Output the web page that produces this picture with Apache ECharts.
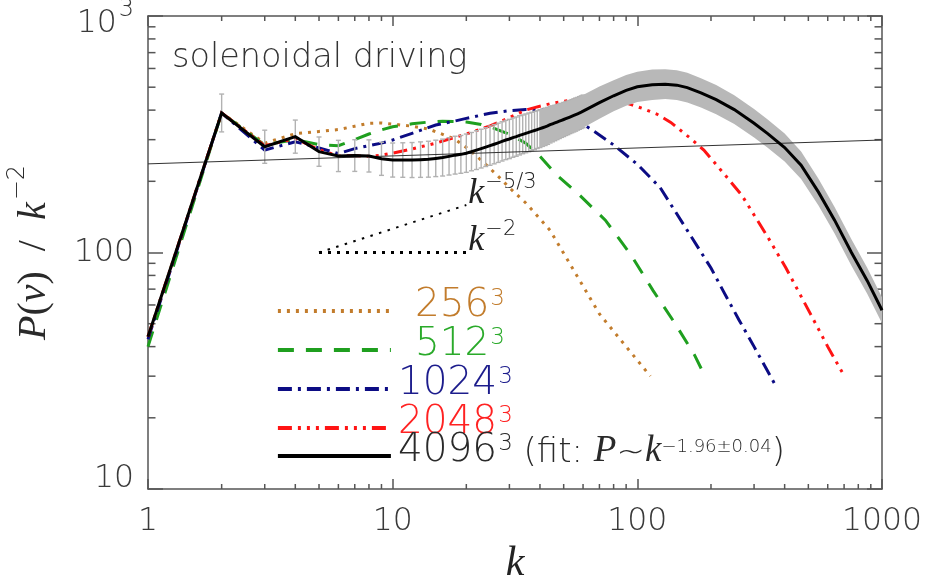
<!DOCTYPE html>
<html><head><meta charset="utf-8">
<script src="https://cdn.jsdelivr.net/npm/echarts@6/dist/echarts.min.js"></script>
<style>html,body{margin:0;padding:0;background:#fff}#c{width:925px;height:585px}</style>
</head><body><div id="c"></div>
<script>
// ---------------- data ----------------
const xMinor = [2,3,4,5,6,7,8,9,20,30,40,50,60,70,80,90,200,300,400,500,600,700,800,900];
const yMinor = [20,30,40,50,60,70,80,90,200,300,400,500,600,700,800,900];

const kBlack = [1,2,3,4,5,6,7,8,9,10,11,12,13,14,15,16,17,18,19,20,21,22,23,24,25,26,27,28,29,30,
  31,32,33,34,35,36,37,38,39,40,41,42,43,44,45,46,47,48,49,50,51,52,53,54,55,56,57,58,59,60,
  70,80,90,100,115,130,145,160,182,210,249,300,341,400,467,550,640,750,870,1000];
const pBlack = [44,389,280,309,267,256,257,256,249,246,
  246,246,247,248,250,252,255,258,260,263,
  267,271,275,279,283,287,291,295,299,302,
  306,309,313,316,319,322,325,328,331,334,
  337,340,343,347,350,353,356,359,362,365,
  368,371,374,377,380,383,386,389,392,395,
  430,460,485,502,512,515,510,498,473,443,
  402,352,318,278,234,180,137,100,76,57];
// error (half width, dex)
const eBlack = [0,0.08,0.07,0.07,0.062,0.066,0.067,0.068,0.07,0.072,
  0.073,0.074,0.075,0.076,0.077,0.078,0.079,0.08,0.08,0.081,
  0.081,0.082,0.082,0.082,0.083,0.083,0.083,0.083,0.083,0.083,
  0.083,0.083,0.083,0.082,0.082,0.082,0.081,0.081,0.08,0.08,
  0.079,0.079,0.078,0.077,0.076,0.075,0.074,0.073,0.072,0.072,
  0.071,0.071,0.07,0.07,0.07,0.07,0.069,0.069,0.069,0.069,
  0.068,0.066,0.065,0.064,0.064,0.063,0.063,0.063,0.062,0.062,
  0.061,0.06,0.06,0.059,0.058,0.057,0.056,0.056,0.055,0.055];

const kOrange = [1,2,3,4,5,6,7,8,9,10,12,14,16,18,20,22,24,27,30,35,44,55,70,90,113];
const pOrange = [44,389,290,318,325,331,342,352,353,349,342,333,316,301,278,256,236,210,188,162,124,84,55,40,30];

const kGreen = [1,2,3,4,5,6,7,8,9,10,12,14,16,18,20,23,26,30,35,40,47,58,74,94,116,141,171,186];
const pGreen = [40,389,285,300,286,283,300,317,330,340,350,356,359,358,356,348,335,316,290,255,212,175,137,98,69,51,37,31];

const kBlue = [1,2,3,4,5,6,7,8,9,10,12,15,18,20,25,30,35,40,45,50,57,67,80,100,124,160,200,224,260,300,363];
const pBlue = [43,389,271,294,277,262,275,283,290,299,319,346,360,369,388,398,402,402,396,385,362,324,285,236,188,124,86,69,52,40,28];

const kRed = [1,2,3,4,5,6,7,8,9,10,12,15,18,20,25,30,35,38,45,55,65,75,85,95,106,120,137,168,187,228,267,340,405,510,600,702];
const pRed = [44,389,283,303,272,256,257,255,258,263,274,290,307,317,343,372,400,410,428,443,450,448,437,421,405,385,355,299,271,213,175,117,86,55,40,30];

const kFit = [1, 1000];
const pFit = [237, 299];

const kRef = [5, 20];
const pRef53 = [100, 158.7];
const pRef2 = [100, 100];

const names = ['256³', '512³', '1024³', '2048³', '4096³'];

// ---------------- styles ----------------
const SANS = '"DejaVu Sans", Roboto, sans-serif';
const SERIF = '"Liberation Serif", "DejaVu Serif", serif';
const C = {orange:'#c27c2c', green:'#1f9f1f', blue:'#0c0c84', red:'#ff1414', black:'#000000'};
const TC = {orange:'#c27c2c', green:'#2aaa2a', blue:'#1c1c8c', red:'#ff2222', black:'#2a2a2a'};
const AX = '#555';
const W = 200;

const zip = (a, b) => a.map((v, i) => [v, b[i]]);

function lineSeries(name, k, p, color, type, width, z) {
  return {type:'line', name:name, data:zip(k,p), symbol:'none', showSymbol:false,
    lineStyle:{color:color, width:width, type:type, cap:'butt', join:'miter'}, itemStyle:{color:color},
    z:z, silent:true, animation:false, clip:true};
}

const errData = [];
for (let i = 0; i < kBlack.length; i++) {
  if (kBlack[i] >= 2 && kBlack[i] <= 60) {
    errData.push([kBlack[i], pBlack[i] * Math.pow(10, -eBlack[i]), pBlack[i] * Math.pow(10, eBlack[i])]);
  }
}

const LF = 39;
function richSet(key, col) {
  const o = {};
  o[key] = {color:col, fontFamily:SANS, fontWeight:W, fontSize:LF, lineHeight:28, padding:[0,0,0,2], verticalAlign:'bottom'};
  o[key + '3'] = {color:col, fontFamily:SANS, fontWeight:W, fontSize:LF, lineHeight:28, padding:[0,0,0,19], verticalAlign:'bottom'};
  o[key + 's'] = {color:col, fontFamily:SANS, fontWeight:W, fontSize:23, lineHeight:12, padding:[0,0,14,1], verticalAlign:'bottom'};
  return o;
}
const legendRich = Object.assign({},
  richSet('o', TC.orange), richSet('g', TC.green), richSet('b', TC.blue), richSet('r', TC.red), richSet('k', TC.black),
  {
    ft: {color:TC.black, fontFamily:SANS, fontWeight:W, fontSize:34, lineHeight:28, verticalAlign:'bottom'},
    fp: {color:TC.black, fontFamily:SERIF, fontStyle:'italic', fontSize:37, lineHeight:28, verticalAlign:'bottom'},
    fs: {color:TC.black, fontFamily:SANS, fontWeight:W, fontSize:18, lineHeight:12, padding:[0,0,14,0], verticalAlign:'bottom'}
  });
const legendText = {
  '256³': '{o3|256}{os|3}',
  '512³': '{g3|512}{gs|3}',
  '1024³': '{b|1024}{bs|3}',
  '2048³': '{r|2048}{rs|3}',
  '4096³': '{k|4096}{ks|3}{ft| (fit: }{fp|P}{ft|~}{fp|k}{fs|−1.96±0.04}{ft|)}'
};
const legendBase = {orient:'vertical', left:271, itemWidth:113, itemHeight:26, itemGap:0,
  selectedMode:false, formatter:(n) => legendText[n],
  textStyle:{rich:legendRich}, lineStyle:{width:3.8}, itemStyle:{opacity:0}};

const labelBase = {fontFamily:SANS, fontWeight:W, fontSize:31.5, color:'#3a3a3a'};
const supRich = {k:{fontFamily:SERIF, fontStyle:'italic', fontSize:36, color:'#222', lineHeight:32, verticalAlign:'bottom'},
                 s:{fontFamily:SANS, fontWeight:W, fontSize:21, color:'#222', lineHeight:14, padding:[0,0,18,1], verticalAlign:'bottom'}};

const chart = echarts.init(document.getElementById('c'), null, {renderer:'canvas'});
chart.setOption({
  animation:false,
  backgroundColor:'#ffffff',
  title:{text:'solenoidal driving', left:167, top:36,
    textStyle:Object.assign({}, labelBase, {fontSize:33.5, color:'#333'})},
  grid:{left:148, right:43, top:16, bottom:96, containLabel:false, outerBoundsMode:'none'},
  legend:[
    Object.assign({}, legendBase, {top:281, data:names.slice(0, 4)}),
    Object.assign({}, legendBase, {top:426, data:names.slice(4)})
  ],
  xAxis:[
    {type:'log', logBase:10, min:1, max:1000, position:'bottom',
      axisLine:{show:true, onZero:false, lineStyle:{color:AX, width:1.5}},
      axisTick:{show:true, inside:true, length:10, lineStyle:{color:AX, width:1.5}},
      axisLabel:Object.assign({show:true, margin:17, formatter:(v) => String(v)}, labelBase),
      splitLine:{show:false},
      name:'k', nameLocation:'middle', nameGap:54,
      nameTextStyle:{fontFamily:SERIF, fontStyle:'italic', fontSize:42, color:'#222'}},
    {type:'log', logBase:10, min:1, max:1000, position:'top',
      axisLine:{show:true, onZero:false, lineStyle:{color:AX, width:1.5}},
      axisTick:{show:true, inside:true, length:10, lineStyle:{color:AX, width:1.5}},
      axisLabel:{show:false}, splitLine:{show:false}}
  ],
  yAxis:[
    {type:'log', logBase:10, min:10, max:1000, position:'left',
      axisLine:{show:true, onZero:false, lineStyle:{color:AX, width:1.5}},
      axisTick:{show:true, inside:true, length:15, lineStyle:{color:AX, width:1.5}},
      axisLabel:Object.assign({show:true, margin:14,
        formatter:(v) => v >= 1000 ? '{e| }\n{t|10}{ts|3}' : (v <= 10 ? '{m|10}\n{e2| }' : '{m|100}'),
        rich:{
          e:{fontSize:10, lineHeight:18},
          e2:{fontSize:10, lineHeight:20},
          t:Object.assign({}, labelBase, {lineHeight:30, verticalAlign:'bottom'}),
          ts:Object.assign({}, labelBase, {fontSize:24, lineHeight:14, padding:[0,0,18,2], verticalAlign:'bottom'}),
          m:Object.assign({}, labelBase, {lineHeight:30})
        }}, labelBase),
      splitLine:{show:false},
      name:'{i|P}{r|(}{i|v}{r|)  /  }{i|k}{s|−2}', nameLocation:'middle', nameGap:94, nameRotate:90,
      nameTextStyle:{rich:{
        i:{fontFamily:SERIF, fontStyle:'italic', fontSize:40, color:'#2a2a2a', lineHeight:40, verticalAlign:'bottom'},
        r:{fontFamily:SERIF, fontSize:40, color:'#2a2a2a', lineHeight:40, verticalAlign:'bottom'},
        s:{fontFamily:SANS, fontWeight:W, fontSize:24, color:'#2a2a2a', lineHeight:16, padding:[0,0,24,2], verticalAlign:'bottom'}
      }}},
    {type:'log', logBase:10, min:10, max:1000, position:'right',
      axisLine:{show:true, onZero:false, lineStyle:{color:AX, width:1.5}},
      axisTick:{show:true, inside:true, length:15, lineStyle:{color:AX, width:1.5}},
      axisLabel:{show:false}, splitLine:{show:false}}
  ],
  series:[
    {type:'custom', silent:true, clip:false, z:1, data:xMinor.map(v => [v, 10]),
      renderItem:(params, api) => {
        const v = api.value(0);
        const b = api.coord([v, 10]), t = api.coord([v, 1000]);
        const st = {stroke:AX, lineWidth:1.5};
        return {type:'group', children:[
          {type:'line', shape:{x1:b[0], y1:b[1], x2:b[0], y2:b[1]-5}, style:st},
          {type:'line', shape:{x1:t[0], y1:t[1], x2:t[0], y2:t[1]+5}, style:st}]};
      }},
    {type:'custom', silent:true, clip:false, z:1, data:yMinor.map(v => [1, v]),
      renderItem:(params, api) => {
        const v = api.value(1);
        const l = api.coord([1, v]), r = api.coord([1000, v]);
        const st = {stroke:AX, lineWidth:1.5};
        return {type:'group', children:[
          {type:'line', shape:{x1:l[0], y1:l[1], x2:l[0]+7.5, y2:l[1]}, style:st},
          {type:'line', shape:{x1:r[0], y1:r[1], x2:r[0]-7.5, y2:r[1]}, style:st}]};
      }},
    lineSeries(names[0], kOrange, pOrange, C.orange, [3,6], 3, 2),
    lineSeries(names[1], kGreen, pGreen, C.green, [16,12], 3, 2),
    lineSeries(names[2], kBlue, pBlue, C.blue, [14,6,3,6], 3, 2),
    lineSeries(names[3], kRed, pRed, C.red, [14,6,3,6,3,6,3,6], 3, 2),
    {type:'custom', silent:true, z:3, data:errData, encode:{x:0, y:[1,2]},
      renderItem:(params, api) => {
        const k = api.value(0);
        const lo = api.coord([k, api.value(1)]), hi = api.coord([k, api.value(2)]);
        const st = {stroke:'#b2b2b2', lineWidth:1.4};
        return {type:'group', children:[
          {type:'line', shape:{x1:lo[0], y1:lo[1], x2:hi[0], y2:hi[1]}, style:st},
          {type:'line', shape:{x1:lo[0]-2.5, y1:lo[1], x2:lo[0]+2.5, y2:lo[1]}, style:st},
          {type:'line', shape:{x1:hi[0]-2.5, y1:hi[1], x2:hi[0]+2.5, y2:hi[1]}, style:st}]};
      }},
    {type:'custom', silent:true, z:3, data:[[40, 300]],
      renderItem:(params, api) => {
        const up = [], dn = [];
        for (let i = 0; i < kBlack.length; i++) {
          if (kBlack[i] < 40) continue;
          up.push(api.coord([kBlack[i], pBlack[i] * Math.pow(10, eBlack[i])]));
          dn.push(api.coord([kBlack[i], pBlack[i] * Math.pow(10, -eBlack[i])]));
        }
        return {type:'polygon', shape:{points:up.concat(dn.reverse())}, style:{fill:'#b8b8b8'}};
      }},
    {type:'line', data:zip(kFit, pFit), symbol:'none', silent:true, z:4,
      lineStyle:{color:'#333', width:1}},
    {type:'line', data:zip(kRef, pRef53), symbol:'none', silent:true, z:4,
      lineStyle:{color:'#000', width:2, type:[2.5,6.5], cap:'butt'},
      endLabel:{show:true, distance:2, offset:[0,-10], formatter:'{k|k}{s|−5/3}', rich:supRich}},
    {type:'line', data:zip(kRef, pRef2), symbol:'none', silent:true, z:4,
      lineStyle:{color:'#000', width:3, type:[3,6], cap:'butt'},
      endLabel:{show:true, distance:2, offset:[0,-10], formatter:'{k|k}{s|−2}', rich:supRich}},
    lineSeries(names[4], kBlack, pBlack, C.black, 'solid', 3, 5)
  ]
});
</script></body></html>
